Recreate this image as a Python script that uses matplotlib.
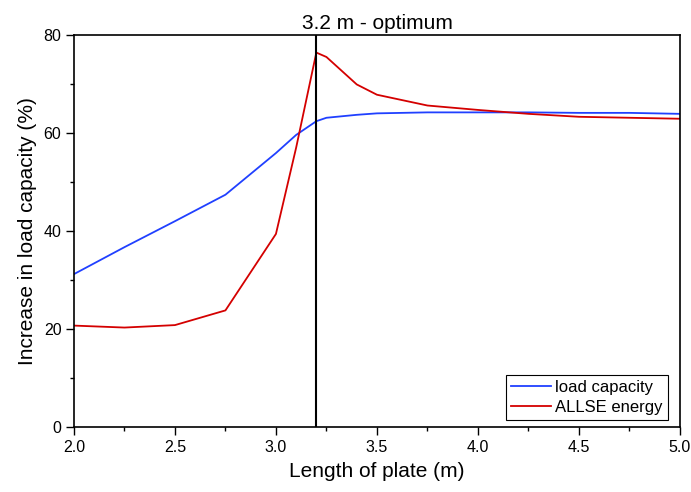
import numpy as np
import matplotlib
matplotlib.use('Agg')
import matplotlib.pyplot as plt
from matplotlib.ticker import MultipleLocator

plt.rcParams['font.family'] = ['Liberation Sans', 'DejaVu Sans']

# plate length (m)
length = [2.0, 2.25, 2.5, 2.75, 3.0, 3.1, 3.2, 3.25, 3.4, 3.5, 3.75, 4.0, 4.25, 4.5, 4.75, 5.0]
load_cap = [31.2, 36.7, 42.0, 47.4, 55.9, 59.6, 62.4, 63.1, 63.7, 64.0, 64.2, 64.2, 64.2, 64.1, 64.1, 63.9]
allse = [20.7, 20.3, 20.8, 23.8, 39.4, 57.0, 76.4, 75.5, 69.9, 67.8, 65.6, 64.7, 63.9, 63.3, 63.1, 62.9]
optimum = 3.2

fig = plt.figure(figsize=(6.91, 4.92), dpi=100)
ax = fig.add_axes([0.107, 0.132, 0.877, 0.797])

ax.plot(length, load_cap, color='#2040ff', lw=1.3, label='load capacity')
ax.plot(length, allse, color='#d40000', lw=1.3, label='ALLSE energy')
ax.axvline(optimum, color='black', lw=1.5)

ax.set_xlim(2.0, 5.0)
ax.set_ylim(0, 80)
ax.xaxis.set_major_locator(MultipleLocator(0.5))
ax.xaxis.set_minor_locator(MultipleLocator(0.25))
ax.yaxis.set_major_locator(MultipleLocator(20))
ax.yaxis.set_minor_locator(MultipleLocator(10))
ax.xaxis.set_major_formatter(matplotlib.ticker.FormatStrFormatter('%.1f'))
ax.tick_params(which='major', direction='out', length=5.5, width=1, labelsize=11.5)
ax.tick_params(which='minor', direction='out', length=3, width=1)
for s in ax.spines.values():
    s.set_linewidth(1.2)

ax.set_xlabel('Length of plate (m)', fontsize=15, labelpad=5)
ax.set_ylabel('Increase in load capacity (%)', fontsize=15, labelpad=5)
ax.set_title('3.2 m - optimum', fontsize=15, pad=4)

leg = ax.legend(loc='lower right', bbox_to_anchor=(0.98, 0.018), fontsize=12,
                fancybox=False, framealpha=1, edgecolor='black', borderpad=0.3,
                handlelength=2.4, handletextpad=0.25, labelspacing=0.3,
                borderaxespad=0)
leg.get_frame().set_linewidth(0.8)

plt.savefig('out.png', dpi=100)
